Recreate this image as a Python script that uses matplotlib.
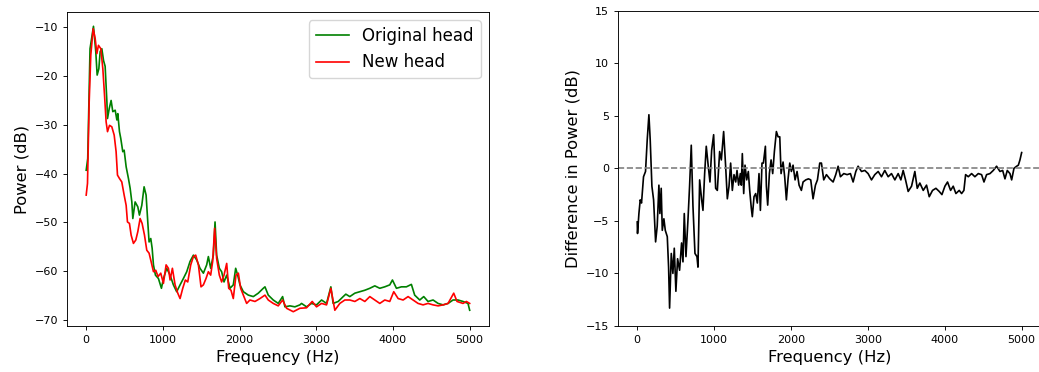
import matplotlib
matplotlib.use("Agg")
import matplotlib.pyplot as plt

# original head spectrum
orig_freq = [0, 20, 50, 95, 125, 143, 165, 182, 204, 226, 247, 270, 278, 300, 325, 347,
             378, 400, 412, 434, 451, 477, 495, 521, 551, 573, 595, 608, 638, 673, 694,
             725, 755, 781, 803, 820, 842, 860, 877, 903, 942, 981, 1007, 1050, 1094,
             1137, 1180, 1224, 1267, 1311, 1354, 1398, 1441, 1484, 1528, 1571, 1593,
             1623, 1658, 1680, 1701, 1736, 1766, 1797, 1832, 1875, 1918, 1949, 1975,
             2005, 2049, 2114, 2179, 2244, 2309, 2331, 2374, 2439, 2504, 2561, 2591,
             2656, 2721, 2786, 2808, 2873, 2938, 3003, 3069, 3134, 3190, 3220, 3286,
             3351, 3385, 3437, 3503, 3568, 3633, 3698, 3763, 3828, 3893, 3958, 3993,
             4045, 4110, 4175, 4240, 4283, 4349, 4401, 4457, 4523, 4588, 4653, 4718,
             4783, 4848, 4913, 4978, 5000]
orig_power = [-39.3, -36.9, -14.4, -9.8, -15.0, -19.8, -18.5, -15.0, -14.4, -16.8, -18.0,
              -25.3, -28.7, -26.7, -25.0, -27.3, -27.0, -29.0, -27.7, -31.4, -32.8, -35.5,
              -35.2, -38.6, -41.0, -43.0, -45.8, -49.2, -45.8, -46.8, -48.5, -46.5, -42.7,
              -44.4, -49.9, -54.0, -53.3, -55.3, -58.7, -60.8, -61.5, -63.5, -61.5, -59.4,
              -60.8, -62.8, -64.2, -62.8, -61.5, -60.1, -58.0, -56.7, -57.7, -59.4, -60.4,
              -58.7, -57.0, -59.4, -56.7, -49.9, -56.7, -59.4, -60.1, -62.2, -60.8, -63.5,
              -62.8, -59.4, -60.8, -62.8, -64.2, -64.9, -65.2, -64.5, -63.5, -63.2, -64.9,
              -65.9, -66.6, -65.2, -67.3, -67.1, -67.3, -66.9, -66.6, -67.3, -66.6, -66.9,
              -65.9, -66.6, -63.2, -66.6, -66.2, -65.2, -64.7, -65.2, -64.5, -64.2, -63.9,
              -63.5, -63.0, -63.5, -63.2, -62.8, -61.8, -63.5, -63.2, -63.2, -62.7, -64.9,
              -65.9, -65.2, -66.2, -65.9, -66.6, -66.9, -66.6, -65.9, -65.9, -66.2, -66.6,
              -68.0]

# new head spectrum
new_freq = [0, 17, 39, 60, 91, 117, 139, 160, 191, 217, 239, 260, 278, 304, 334, 365,
            390, 408, 434, 464, 495, 521, 538, 564, 586, 616, 647, 673, 703, 729, 760,
            790, 820, 846, 877, 907, 937, 972, 1007, 1042, 1072, 1094, 1124, 1159, 1194,
            1224, 1259, 1293, 1324, 1363, 1398, 1428, 1463, 1497, 1528, 1562, 1593,
            1623, 1649, 1675, 1701, 1736, 1766, 1797, 1832, 1858, 1888, 1918, 1953,
            1984, 2014, 2049, 2092, 2135, 2201, 2266, 2331, 2374, 2439, 2504, 2561,
            2613, 2700, 2786, 2873, 2947, 3003, 3069, 3134, 3190, 3242, 3307, 3372,
            3437, 3503, 3568, 3633, 3698, 3763, 3828, 3893, 3958, 4010, 4067, 4132,
            4197, 4262, 4327, 4392, 4457, 4523, 4588, 4653, 4718, 4792, 4835, 4913,
            4957, 5000]
new_power = [-44.4, -42.0, -25.3, -15.7, -10.3, -12.3, -15.4, -13.7, -14.4, -18.5, -23.9,
             -29.4, -31.4, -30.1, -30.4, -32.1, -35.5, -40.3, -41.0, -41.7, -44.4, -46.5,
             -49.9, -50.2, -52.6, -54.3, -53.6, -51.9, -49.2, -50.2, -52.6, -55.7, -56.3,
             -58.0, -60.1, -59.8, -61.1, -60.4, -62.5, -58.7, -59.4, -61.8, -59.4, -62.8,
             -64.5, -65.6, -63.5, -61.8, -62.2, -58.7, -57.0, -56.7, -58.7, -63.2, -62.8,
             -61.5, -60.1, -60.8, -58.0, -51.2, -57.4, -60.8, -62.2, -60.8, -58.4, -63.5,
             -63.9, -65.6, -60.8, -60.4, -63.5, -64.9, -66.6, -65.9, -66.2, -65.6, -64.9,
             -65.9, -66.6, -67.1, -65.9, -67.6, -68.3, -67.6, -67.5, -66.2, -67.3, -66.6,
             -66.9, -63.5, -68.0, -66.6, -65.9, -65.9, -66.2, -65.6, -66.2, -65.2, -65.9,
             -66.6, -65.9, -66.2, -64.2, -65.6, -65.9, -65.2, -65.9, -66.6, -66.9, -66.6,
             -66.9, -67.1, -66.9, -66.6, -64.5, -66.2, -66.6, -66.2, -66.6]

# difference new - original (right panel)
diff_freq = [0, 4, 22, 39, 56, 82, 108, 130, 152, 169, 191, 213, 239, 260, 282, 295, 312,
             326, 347, 365, 391, 408, 421, 443, 464, 482, 503, 525, 551, 577, 595, 612,
             634, 660, 681, 703, 725, 751, 777, 790, 812, 838, 855, 877, 898, 924, 946,
             968, 994, 1020, 1042, 1072, 1094, 1124, 1150, 1172, 1194, 1215, 1237, 1259,
             1281, 1298, 1319, 1341, 1354, 1367, 1385, 1402, 1424, 1445, 1463, 1484,
             1497, 1519, 1541, 1562, 1584, 1602, 1623, 1641, 1667, 1680, 1697, 1719,
             1741, 1762, 1784, 1810, 1832, 1854, 1871, 1897, 1918, 1940, 1962, 1984,
             2005, 2027, 2053, 2079, 2105, 2135, 2157, 2192, 2227, 2257, 2287, 2318,
             2344, 2374, 2396, 2426, 2461, 2504, 2548, 2582, 2613, 2643, 2687, 2730,
             2773, 2808, 2843, 2873, 2917, 2960, 3003, 3047, 3090, 3134, 3177, 3220,
             3264, 3307, 3351, 3394, 3429, 3459, 3490, 3524, 3568, 3611, 3642, 3676,
             3720, 3763, 3798, 3841, 3885, 3928, 3963, 4002, 4036, 4076, 4110, 4145,
             4188, 4219, 4249, 4271, 4306, 4349, 4392, 4436, 4479, 4510, 4544, 4588,
             4631, 4674, 4718, 4753, 4783, 4813, 4848, 4870, 4900, 4935, 4957, 4978,
             5000]
diff_power = [-5.1, -6.2, -4.3, -3.0, -3.3, -0.8, -0.3, 2.7, 5.1, 2.7, -1.7, -3.0, -7.0,
              -5.5, -1.6, -4.3, -1.9, -5.9, -4.8, -5.9, -6.5, -9.4, -13.3, -8.1, -10.0,
              -7.6, -11.7, -8.6, -9.7, -7.1, -8.9, -4.3, -8.4, -4.9, -1.7, 2.2, -3.6,
              -8.1, -8.4, -9.4, -1.1, -3.0, -4.0, -0.5, 2.1, 0.2, -1.3, 1.7, 3.2, -1.9,
              -2.1, 1.6, 0.8, 3.5, 0.2, -2.9, -1.7, 0.5, -2.1, -0.6, -1.3, -0.2, -1.6,
              -0.5, -1.6, 1.4, -2.4, 0.3, -1.1, -0.3, -2.1, -3.8, -4.6, -2.7, -2.4, -3.3,
              -0.5, -4.0, 0.5, 0.5, 2.1, -1.7, -3.5, -0.5, 0.8, -0.5, 1.6, 3.5, 3.0, 3.0,
              -0.5, 0.6, -0.8, -3.0, -1.0, 0.5, -0.3, 0.3, -1.1, -0.3, -1.6, -2.1, -1.3,
              -1.1, -1.0, -1.1, -2.9, -1.6, -1.1, 0.5, 0.5, -1.1, -0.6, -1.0, -1.3, -0.6,
              0.2, -0.8, -0.5, -0.6, -0.5, -1.3, -0.3, 0.2, -0.3, -0.2, -0.5, -1.1, -0.6,
              -0.3, -0.8, -0.2, -0.8, -0.5, -1.1, -0.5, -1.1, -0.2, -1.1, -2.2, -1.7,
              -0.3, -1.9, -1.4, -2.1, -1.6, -2.7, -2.1, -1.9, -2.2, -2.5, -1.7, -1.3,
              -2.1, -1.7, -2.4, -2.1, -2.4, -2.1, -0.6, -0.8, -0.5, -0.8, -0.5, -0.6,
              -1.3, -0.6, -0.5, -0.2, 0.2, -0.3, -0.2, -1.0, -0.2, -0.5, -1.1, 0.0, 0.2,
              0.3, 0.8, 1.5]

plt.rcParams['axes.linewidth'] = 0.65
plt.rcParams['xtick.major.width'] = 0.65
plt.rcParams['ytick.major.width'] = 0.65
plt.rcParams['xtick.major.size'] = 2.8
plt.rcParams['ytick.major.size'] = 2.8
plt.rcParams['xtick.labelsize'] = 8
plt.rcParams['ytick.labelsize'] = 8

fig = plt.figure(figsize=(10.39, 3.72), dpi=100)
ax1 = fig.add_axes([0.0645, 0.1237, 0.406, 0.844])
ax2 = fig.add_axes([0.5948, 0.1237, 0.407, 0.8476])

ax1.plot(orig_freq, orig_power, color='green', lw=1.2, label='Original head')
ax1.plot(new_freq, new_power, color='red', lw=1.2, label='New head')
ax1.set_xlabel('Frequency (Hz)', fontsize=11.8)
ax1.set_ylabel('Power (dB)', fontsize=11.8)
ax1.set_xticks([0, 1000, 2000, 3000, 4000, 5000])
ax1.legend(loc='upper right', fontsize=12)

ax2.plot(diff_freq, diff_power, color='black', lw=1.2)
ax2.axhline(0, color='gray', ls='--', lw=1.2)
ax2.set_ylim(-15, 15)
ax2.set_xticks([0, 1000, 2000, 3000, 4000, 5000])
ax2.set_xlabel('Frequency (Hz)', fontsize=11.8)
ax2.set_ylabel('Difference in Power (dB)', fontsize=11.8)

fig.savefig('out.png', dpi=100)
